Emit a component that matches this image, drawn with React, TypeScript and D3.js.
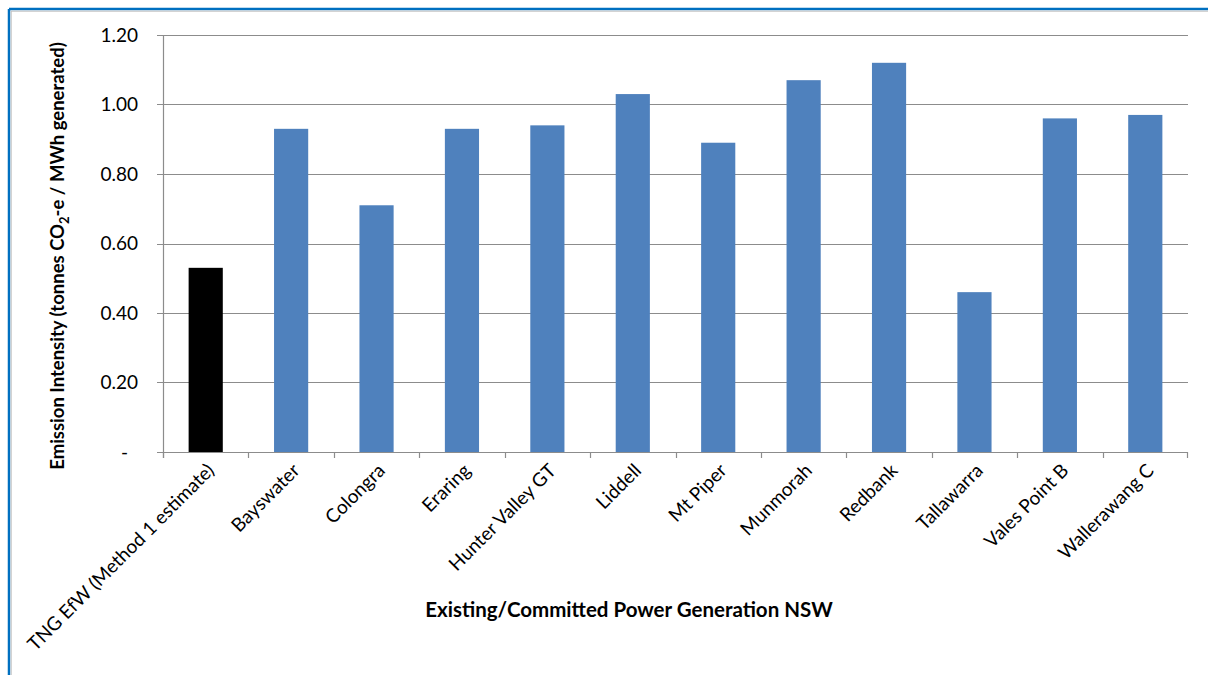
import React from "react";
import * as d3 from "d3";

const categories = [
  "TNG EfW (Method 1 estimate)",
  "Bayswater",
  "Colongra",
  "Eraring",
  "Hunter Valley GT",
  "Liddell",
  "Mt Piper",
  "Munmorah",
  "Redbank",
  "Tallawarra",
  "Vales Point B",
  "Wallerawang C",
];
const values = [0.53, 0.93, 0.71, 0.93, 0.94, 1.03, 0.89, 1.07, 1.12, 0.46, 0.96, 0.97];
const barColors = ["#000000", "#4F81BD", "#4F81BD", "#4F81BD", "#4F81BD", "#4F81BD", "#4F81BD", "#4F81BD", "#4F81BD", "#4F81BD", "#4F81BD", "#4F81BD"];
const yTicks = [0, 0.2, 0.4, 0.6, 0.8, 1.0, 1.2];
const yTickLabels = ["-", "0.20", "0.40", "0.60", "0.80", "1.00", "1.20"];
const xTitle = "Existing/Committed Power Generation NSW";

const W = 1208;
const H = 675;
const left = 163;
const right = 1188;
const top = 35;
const bottom = 452;
const FONT = "Lato, 'Open Sans', sans-serif";

export default function App() {
  const x = d3.scaleBand<string>().domain(categories).range([left, right]).paddingInner(0.6).paddingOuter(0.3);
  const xb = d3.scaleBand<string>().domain(categories).range([left, right]);
  const y = d3.scaleLinear().domain([0, 1.2]).range([bottom, top]);
  const grid = "#8c8c8c";

  return (
    <svg width={W} height={H} style={{ position: "absolute", left: 0, top: 0, display: "block" }}>
      <rect x={0} y={0} width={W} height={H} fill="#ffffff" />
      {/* chart frame */}
      <line x1={9} y1={9} x2={W} y2={9} stroke="#0070C0" strokeWidth={2.5} />
      <line x1={9} y1={9} x2={9} y2={H} stroke="#0070C0" strokeWidth={2.5} />
      <line x1={11} y1={11.2} x2={W} y2={11.2} stroke="#bfbfbf" strokeWidth={1} />
      <line x1={11.2} y1={11} x2={11.2} y2={H} stroke="#bfbfbf" strokeWidth={1} />

      {/* gridlines */}
      {yTicks.map((t) => (
        <line key={"g" + t} x1={left - 6} x2={right} y1={Math.round(y(t)) + 0.5} y2={Math.round(y(t)) + 0.5} stroke={grid} strokeWidth={1.2} />
      ))}
      {/* y axis */}
      <line x1={left + 0.5} x2={left + 0.5} y1={top} y2={bottom + 6} stroke={grid} strokeWidth={1.2} />
      {yTicks.map((t, i) => (
        <text key={"yl" + t} x={t === 0 ? 128 : 138} y={y(t)} dy="0.35em" textAnchor="end" fontFamily={FONT} fontSize={19} fill="#000">
          {yTickLabels[i]}
        </text>
      ))}
      {/* x ticks */}
      {categories.map((c) => (
        <line key={"xt" + c} x1={Math.round(xb(c)!) + 0.5} x2={Math.round(xb(c)!) + 0.5} y1={bottom} y2={bottom + 6} stroke={grid} strokeWidth={1.2} />
      ))}
      <line x1={right - 0.5} x2={right - 0.5} y1={bottom} y2={bottom + 6} stroke={grid} strokeWidth={1.2} />

      {/* bars */}
      {categories.map((c, i) => (
        <rect key={"b" + c} x={x(c)} y={y(values[i])} width={x.bandwidth()} height={bottom - y(values[i])} fill={barColors[i]} />
      ))}

      {/* x labels */}
      {categories.map((c) => {
        const cx = xb(c)! + xb.bandwidth() / 2 + 5;
        const cy = 467;
        return (
          <text key={"xl" + c} transform={`translate(${cx},${cy}) rotate(-45)`} textAnchor="end" fontFamily={FONT} fontSize={19} fill="#000" dy="0.35em">
            {c}
          </text>
        );
      })}

      {/* axis titles */}
      <text x={629} y={617} textAnchor="middle" fontFamily={FONT} fontWeight="bold" fontSize={20.5} fill="#000">
        {xTitle}
      </text>
      <text transform={`translate(58,256) rotate(-90)`} textAnchor="middle" fontFamily={FONT} fontWeight="bold" fontSize={18.5} fill="#000" dy="0.35em">
        Emission Intensity (tonnes CO<tspan fontSize={13} dy="5">2</tspan><tspan dy="-5">-e / MWh generated)</tspan>
      </text>
    </svg>
  );
}
